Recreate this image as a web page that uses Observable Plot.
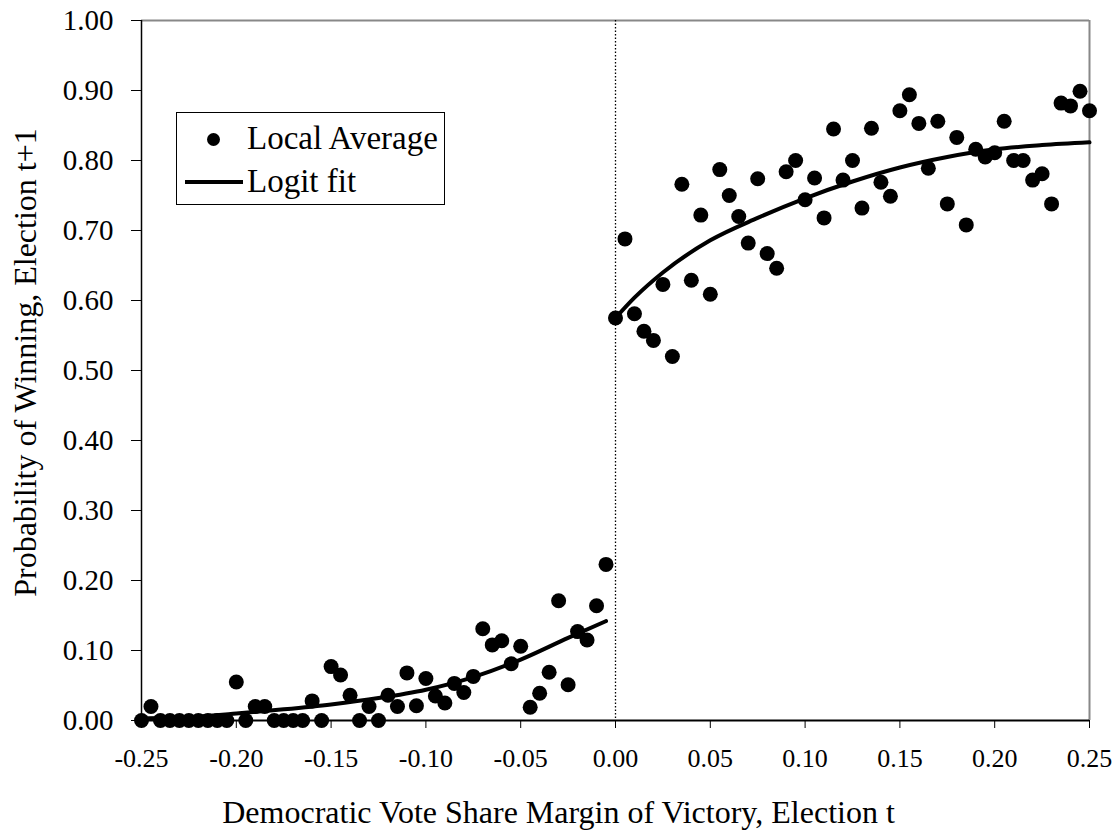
<!DOCTYPE html>
<html>
<head>
<meta charset="utf-8">
<script src="https://cdn.jsdelivr.net/npm/d3@7"></script>
<script src="https://cdn.jsdelivr.net/npm/@observablehq/plot@0.6"></script>
<style>
  html, body { margin: 0; padding: 0; background: #fff; }
  #wrap { position: relative; width: 1116px; height: 837px; font-family: "Liberation Serif", "Times New Roman", serif; }
  #legend { position: absolute; left: 176px; top: 112px; width: 269px; height: 93px; border: 1px solid #000; background: #fff; box-sizing: border-box; }
  #legend .row { position: absolute; left: 0; font-size: 33px; line-height: 1; color: #000; white-space: nowrap; }
  #legend .dot { position: absolute; width: 13px; height: 13px; border-radius: 50%; background: #000; }
  #legend .ln { position: absolute; height: 4px; background: #000; }
</style>
</head>
<body>
<div id="wrap"></div>
<script>
// ---- data ----
const leftX = [-0.25,-0.245,-0.24,-0.235,-0.23,-0.225,-0.22,-0.215,-0.21,-0.205,
  -0.20,-0.195,-0.19,-0.185,-0.18,-0.175,-0.17,-0.165,-0.16,-0.155,
  -0.15,-0.145,-0.14,-0.135,-0.13,-0.125,-0.12,-0.115,-0.11,-0.105,
  -0.10,-0.095,-0.09,-0.085,-0.08,-0.075,-0.07,-0.065,-0.06,-0.055,
  -0.05,-0.045,-0.04,-0.035,-0.03,-0.025,-0.02,-0.015,-0.01,-0.005];
const leftY = [0.000,0.020,0.000,0.000,0.000,0.000,0.000,0.000,0.000,0.000,
  0.055,0.000,0.020,0.020,0.000,0.000,0.000,0.000,0.028,0.000,
  0.077,0.065,0.036,0.000,0.020,0.000,0.036,0.020,0.068,0.021,
  0.060,0.035,0.025,0.053,0.040,0.063,0.131,0.108,0.114,0.081,
  0.106,0.019,0.039,0.069,0.171,0.051,0.127,0.115,0.164,0.223];
const rightX = [0.00,0.005,0.01,0.015,0.02,0.025,0.03,0.035,0.04,0.045,
  0.05,0.055,0.06,0.065,0.07,0.075,0.08,0.085,0.09,0.095,
  0.10,0.105,0.11,0.115,0.12,0.125,0.13,0.135,0.14,0.145,
  0.15,0.155,0.16,0.165,0.17,0.175,0.18,0.185,0.19,0.195,
  0.20,0.205,0.21,0.215,0.22,0.225,0.23,0.235,0.24,0.245,0.25];
const rightY = [0.575,0.688,0.581,0.556,0.543,0.623,0.520,0.766,0.629,0.722,
  0.609,0.787,0.750,0.720,0.682,0.774,0.667,0.646,0.784,0.800,
  0.744,0.775,0.718,0.845,0.772,0.800,0.732,0.846,0.769,0.749,
  0.871,0.894,0.853,0.789,0.856,0.738,0.833,0.708,0.816,0.805,
  0.811,0.856,0.800,0.800,0.772,0.781,0.738,0.882,0.878,0.899,0.871];
const fitLeftX  = [-0.25,-0.225,-0.20,-0.175,-0.15,-0.125,-0.10,-0.075,-0.05,-0.025,-0.005];
const fitLeftY  = [0.003,0.005,0.010,0.016,0.023,0.032,0.044,0.062,0.087,0.118,0.142];
const fitRightX = [0.00,0.01,0.025,0.05,0.075,0.10,0.125,0.15,0.175,0.20,0.225,0.25];
const fitRightY = [0.575,0.604,0.640,0.686,0.718,0.746,0.770,0.790,0.805,0.816,0.822,0.826];
const xTicks = [-0.25,-0.20,-0.15,-0.10,-0.05,0.00,0.05,0.10,0.15,0.20,0.25];
const yTicks = [0,0.1,0.2,0.3,0.4,0.5,0.6,0.7,0.8,0.9,1.0];
const xTitle = "Democratic Vote Share Margin of Victory, Election t";
const yTitle = "Probability of Winning, Election t+1";
const legendLabels = ["Local Average", "Logit fit"];

const points = leftX.map((x, i) => ({x, y: leftY[i]}))
  .concat(rightX.map((x, i) => ({x, y: rightY[i]})));
const fitL = fitLeftX.map((x, i) => ({x, y: fitLeftY[i]}));
const fitR = fitRightX.map((x, i) => ({x, y: fitRightY[i]}));
const fmt = d => (Math.abs(d) < 1e-9 ? 0 : d).toFixed(2);

const chart = Plot.plot({
  width: 1116,
  height: 837,
  marginLeft: 141,
  marginRight: 27,
  marginTop: 20,
  marginBottom: 117,
  style: {fontFamily: "'Liberation Serif', 'Times New Roman', serif", background: "#fff", overflow: "visible"},
  x: {domain: [-0.25, 0.25]},
  y: {domain: [0, 1]},
  marks: [
    Plot.axisY({ticks: yTicks, tickFormat: fmt, tickSize: 10, tickPadding: 18, fontSize: 29, label: null, stroke: "#000"}),
    Plot.axisX({ticks: xTicks, tickFormat: fmt, tickSize: 8, tickPadding: 20, fontSize: 26, label: null, stroke: "#000"}),
    Plot.ruleY([1], {stroke: "#888", strokeWidth: 2}),
    Plot.ruleX([0.25], {stroke: "#888", strokeWidth: 2}),
    Plot.ruleX([0], {stroke: "#000", strokeWidth: 1.3, strokeDasharray: "1.5,2"}),
    Plot.line(fitL, {x: "x", y: "y", stroke: "#000", strokeWidth: 4, curve: "monotone-x"}),
    Plot.line(fitR, {x: "x", y: "y", stroke: "#000", strokeWidth: 4, curve: "monotone-x"}),
    Plot.dot(points, {x: "x", y: "y", r: 7.5, fill: "#000", stroke: "none"}),
    Plot.ruleX([-0.25], {stroke: "#000", strokeWidth: 1.5}),
    Plot.ruleY([0], {stroke: "#000", strokeWidth: 2}),
    Plot.text([xTitle], {frameAnchor: "bottom", lineAnchor: "middle", textAnchor: "middle", dy: 92, dx: -57, fontSize: 32, fill: "#000"}),
    Plot.text([yTitle], {frameAnchor: "left", lineAnchor: "middle", textAnchor: "middle", dx: -116, dy: -8, rotate: -90, fontSize: 32, fill: "#000"})
  ]
});

const wrap = document.getElementById("wrap");
wrap.appendChild(chart);

const legend = document.createElement("div");
legend.id = "legend";
legend.innerHTML =
  `<div class="dot" style="left:30px;top:20px"></div>` +
  `<div class="row" style="left:70px;top:9px">${legendLabels[0]}</div>` +
  `<div class="ln" style="left:8px;width:58px;top:67px"></div>` +
  `<div class="row" style="left:70px;top:52px">${legendLabels[1]}</div>`;
wrap.appendChild(legend);
</script>
</body>
</html>
